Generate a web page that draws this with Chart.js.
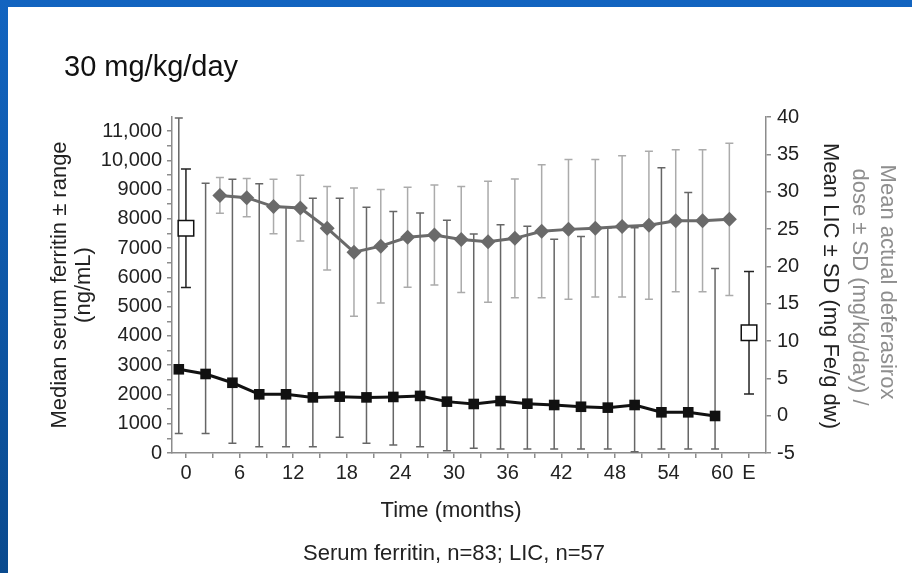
<!DOCTYPE html>
<html>
<head>
<meta charset="utf-8">
<script src="https://cdn.jsdelivr.net/npm/chart.js@4.4.1/dist/chart.umd.min.js"></script>
<style>
  html, body { margin: 0; padding: 0; }
  body {
    width: 912px; height: 573px; overflow: hidden; position: relative;
    background: linear-gradient(to bottom, #1264c0, #0a4a8e);
    font-family: "Liberation Sans", Arial, sans-serif;
  }
  #panel { position: absolute; left: 8px; top: 7px; right: 0; bottom: 0; background: #fff; }
  #chart { position: absolute; left: 0; top: 0; }
  .title { position: absolute; left: 64px; top: 50px; font-size: 29px; color: #111; }
  .note { position: absolute; left: 204px; width: 500px; top: 540px; text-align: center; font-size: 22px; color: #222; }
</style>
</head>
<body>
<div id="panel"></div>
<canvas id="chart" width="912" height="573"></canvas>
<div class="title">30 mg/kg/day</div>
<div class="note">Serum ferritin, n=83; LIC, n=57</div>
<script>
// months on the x axis, "E" = end of study
const ferritinMonths = [0, 3, 6, 9, 12, 15, 18, 21, 24, 27, 30, 33, 36, 39, 42, 45, 48, 51, 54, 57, 60];
const ferritinMedian = [2860, 2700, 2400, 2005, 2005, 1900, 1925, 1900, 1915, 1950, 1755, 1675, 1775, 1685, 1640, 1580, 1550, 1640, 1390, 1390, 1265];
const ferritinMax = [11450, 9220, 9350, 9200, 8400, 8700, 8700, 8400, 8250, 8200, 7950, 7480, 7800, 7750, 7300, 7400, 7700, 7700, 9750, 8900, 6300];
const ferritinMin = [670, 670, 330, 215, 215, 215, 535, 330, 275, 215, 80, 160, 135, 135, 135, 135, 135, 45, 135, 135, 135];

const doseMonths = [3, 6, 9, 12, 15, 18, 21, 24, 27, 30, 33, 36, 39, 42, 45, 48, 51, 54, 57, 60];
const doseMean = [29.5, 29.2, 28.0, 27.8, 25.1, 21.9, 22.7, 23.9, 24.2, 23.6, 23.3, 23.75, 24.7, 24.95, 25.1, 25.35, 25.5, 26.1, 26.1, 26.3];
const doseSD = [2.4, 2.55, 3.65, 4.4, 5.6, 8.6, 7.6, 6.7, 6.7, 7.1, 8.1, 7.95, 8.9, 9.35, 9.2, 9.45, 9.9, 9.5, 9.5, 10.2];

const licMonths = [0, 63];
const licMean = [25.1, 11.1];
const licSD = [7.95, 8.2];

const xTicks = [0, 3, 6, 9, 12, 15, 18, 21, 24, 27, 30, 33, 36, 39, 42, 45, 48, 51, 54, 57, 60, 63];
const endTick = 63;

// small side shift so the two series don't sit on top of each other
const shift = 0.8;

const axisGrey = "#8c8c8c";
const font = "Liberation Sans, Arial, sans-serif";

const errorBars = {
  id: "errorBars",
  beforeDatasetsDraw(chart) {
    const { ctx, scales } = chart;
    const x = scales.x, y = scales.y, y1 = scales.y1;
    const bar = (px, top, bottom, cap, color, w) => {
      ctx.strokeStyle = color;
      ctx.lineWidth = w;
      ctx.beginPath();
      ctx.moveTo(px, top); ctx.lineTo(px, bottom);
      ctx.moveTo(px - cap, top); ctx.lineTo(px + cap, top);
      ctx.moveTo(px - cap, bottom); ctx.lineTo(px + cap, bottom);
      ctx.stroke();
    };
    ctx.save();
    doseMonths.forEach((m, i) => {
      bar(x.getPixelForValue(m + shift), y1.getPixelForValue(doseMean[i] + doseSD[i]),
        y1.getPixelForValue(doseMean[i] - doseSD[i]), 4, "#ababab", 1.5);
    });
    ferritinMonths.forEach((m, i) => {
      bar(x.getPixelForValue(m - shift), y.getPixelForValue(ferritinMax[i]),
        y.getPixelForValue(ferritinMin[i]), 4, "#666", 1.5);
    });
    licMonths.forEach((m, i) => {
      bar(x.getPixelForValue(m), y1.getPixelForValue(licMean[i] + licSD[i]),
        y1.getPixelForValue(licMean[i] - licSD[i]), 5, "#222", 1.5);
    });
    ctx.restore();
  },
  afterDraw(chart) {
    const ctx = chart.ctx;
    const text = (s, px, py, rot, color) => {
      ctx.save();
      ctx.translate(px, py);
      ctx.rotate(rot);
      ctx.fillStyle = color;
      ctx.font = "22px " + font;
      ctx.textAlign = "center";
      ctx.textBaseline = "middle";
      ctx.fillText(s, 0, 0);
      ctx.restore();
    };
    text("Median serum ferritin \u00b1 range", 60, 285, -Math.PI / 2, "#222");
    text("(ng/mL)", 84, 285, -Math.PI / 2, "#222");
    text("Mean actual deferasirox", 887, 282, Math.PI / 2, "#8e8e8e");
    text("dose \u00b1 SD (mg/kg/day) /", 859, 287, Math.PI / 2, "#8e8e8e");
    text("Mean LIC \u00b1 SD (mg Fe/g dw)", 830, 286, Math.PI / 2, "#222");
    text("Time (months)", 451, 511, 0, "#222");
  }
};

new Chart(document.getElementById("chart"), {
  type: "line",
  data: {
    datasets: [
      {
        data: ferritinMonths.map((m, i) => ({ x: m - shift, y: ferritinMedian[i] })),
        yAxisID: "y",
        borderColor: "#111",
        backgroundColor: "#111",
        borderWidth: 3,
        pointStyle: "rect",
        pointRadius: 7.5,
        pointBorderWidth: 0
      },
      {
        data: doseMonths.map((m, i) => ({ x: m + shift, y: doseMean[i] })),
        yAxisID: "y1",
        borderColor: "#6a6a6a",
        backgroundColor: "#6a6a6a",
        borderWidth: 3,
        pointStyle: "rectRot",
        pointRadius: 7.5,
        pointBorderWidth: 0
      },
      {
        data: licMonths.map((m, i) => ({ x: m, y: licMean[i] })),
        yAxisID: "y1",
        showLine: false,
        borderColor: "#111",
        backgroundColor: "#fff",
        borderWidth: 1.5,
        pointStyle: "rect",
        pointRadius: 11
      }
    ]
  },
  options: {
    responsive: false,
    animation: false,
    devicePixelRatio: 1,
    layout: { padding: { top: 117, left: 0, right: 0, bottom: 0 } },
    plugins: { legend: { display: false }, tooltip: { enabled: false } },
    scales: {
      x: {
        type: "linear",
        min: -1.56,
        max: 64.9,
        afterBuildTicks: s => { s.ticks = xTicks.map(v => ({ value: v })); },
        afterFit: s => { s.height = 120; },
        ticks: {
          autoSkip: false, maxRotation: 0, padding: 3, color: "#222",
          font: { size: 20, family: font },
          callback: v => v === endTick ? "E" : (v % 6 === 0 ? String(v) : "")
        },
        grid: { drawOnChartArea: false, tickLength: 5, color: axisGrey, lineWidth: 1.5 },
        border: { color: axisGrey, width: 1.5 }
      },
      y: {
        position: "left",
        min: 0,
        max: 11480,
        afterBuildTicks: s => {
          s.ticks = [];
          for (let v = 0; v <= 11000; v += 500) s.ticks.push({ value: v });
        },
        afterFit: s => { s.width = 172; },
        ticks: {
          autoSkip: false, padding: 5, color: "#222",
          font: { size: 20, family: font },
          callback: v => v % 1000 !== 0 ? "" : (v >= 10000 ? v.toLocaleString("en-US") : String(v))
        },
        grid: { drawOnChartArea: false, tickLength: 5, color: axisGrey, lineWidth: 1.5 },
        border: { color: axisGrey, width: 1.5 }
      },
      y1: {
        position: "right",
        min: -5,
        max: 40,
        afterFit: s => { s.width = 146; },
        ticks: {
          stepSize: 5, padding: 6, color: "#222",
          font: { size: 20, family: font }
        },
        grid: { drawOnChartArea: false, tickLength: 5, color: axisGrey, lineWidth: 1.5 },
        border: { color: axisGrey, width: 1.5 }
      }
    }
  },
  plugins: [errorBars]
});
</script>
</body>
</html>
